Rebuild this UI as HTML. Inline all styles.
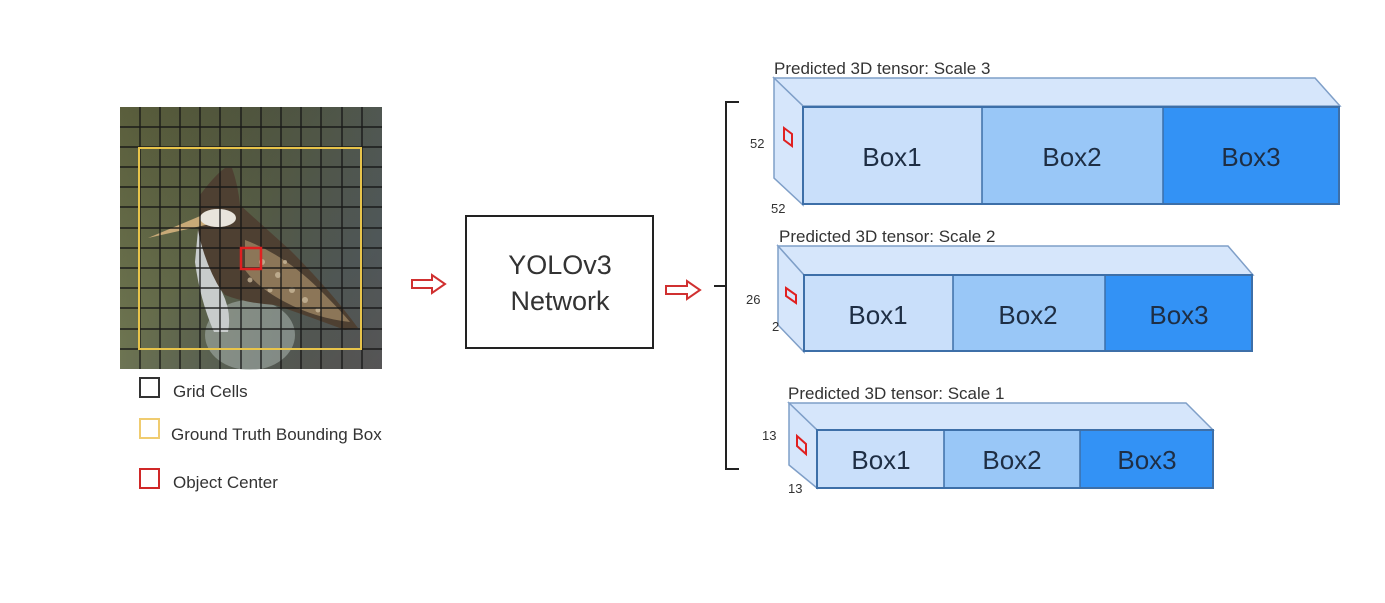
<!DOCTYPE html>
<html><head><meta charset="utf-8"><style>
html,body{margin:0;padding:0;background:#fff;}
svg{display:block;font-family:"Liberation Sans",sans-serif;}
</style></head><body>
<svg width="1385" height="603" viewBox="0 0 1385 603" xmlns="http://www.w3.org/2000/svg">
<defs>
<linearGradient id="bg" x1="0" y1="0" x2="1" y2="1">
<stop offset="0" stop-color="#5a5e3c"/><stop offset="0.45" stop-color="#6d7450"/><stop offset="0.75" stop-color="#6c7466"/><stop offset="1" stop-color="#7c6e5e"/>
</linearGradient>
<linearGradient id="bgr" x1="0" y1="0" x2="1" y2="0">
<stop offset="0" stop-color="#000" stop-opacity="0"/><stop offset="1" stop-color="#3c4450" stop-opacity="0.6"/>
</linearGradient>
</defs>
<rect x="120" y="107" width="262" height="262" fill="url(#bg)"/>
<rect x="120" y="107" width="262" height="262" fill="url(#bgr)"/>
<!-- bird -->
<ellipse cx="250" cy="335" rx="45" ry="35" fill="#a3aea8" opacity="0.6"/>
<path d="M200,195 Q215,175 225,168 L232,168 Q238,185 240,205 Q262,225 290,250 Q330,290 358,328 L345,330 Q305,315 275,305 Q245,303 225,295 Q205,270 198,240 Z" fill="#4e4032"/>
<path d="M245,240 Q285,255 320,290 Q340,310 350,322 Q315,318 285,302 Q258,288 245,270 Z" fill="#8c7658"/>
<g fill="#c9b79a" opacity="0.8">
<circle cx="262" cy="262" r="3"/><circle cx="278" cy="275" r="3"/><circle cx="292" cy="290" r="3"/><circle cx="270" cy="290" r="2.5"/><circle cx="305" cy="300" r="3"/><circle cx="250" cy="280" r="2.5"/><circle cx="285" cy="262" r="2"/><circle cx="318" cy="310" r="2.5"/>
</g>
<path d="M198,230 Q205,265 222,292 Q232,312 228,332 L214,332 Q200,300 195,262 Z" fill="#c8cccc"/>
<path d="M148,238 L205,214 L210,224 Z" fill="#c8aa78"/>
<ellipse cx="218" cy="218" rx="18" ry="9" fill="#e8e4dc"/>
<g stroke="#151515" stroke-width="1.4" opacity="0.9">
<line x1="140" y1="107" x2="140" y2="369"/><line x1="160" y1="107" x2="160" y2="369"/><line x1="180" y1="107" x2="180" y2="369"/><line x1="200" y1="107" x2="200" y2="369"/><line x1="220" y1="107" x2="220" y2="369"/><line x1="241" y1="107" x2="241" y2="369"/><line x1="261" y1="107" x2="261" y2="369"/><line x1="281" y1="107" x2="281" y2="369"/><line x1="301" y1="107" x2="301" y2="369"/><line x1="321" y1="107" x2="321" y2="369"/><line x1="342" y1="107" x2="342" y2="369"/><line x1="362" y1="107" x2="362" y2="369"/>
<line x1="120" y1="127" x2="382" y2="127"/><line x1="120" y1="147" x2="382" y2="147"/><line x1="120" y1="167" x2="382" y2="167"/><line x1="120" y1="187" x2="382" y2="187"/><line x1="120" y1="207" x2="382" y2="207"/><line x1="120" y1="228" x2="382" y2="228"/><line x1="120" y1="248" x2="382" y2="248"/><line x1="120" y1="268" x2="382" y2="268"/><line x1="120" y1="288" x2="382" y2="288"/><line x1="120" y1="308" x2="382" y2="308"/><line x1="120" y1="329" x2="382" y2="329"/><line x1="120" y1="349" x2="382" y2="349"/>
</g>
<rect x="139" y="148" width="222" height="201" fill="none" stroke="#e8c44a" stroke-width="2"/>
<rect x="241" y="248" width="20" height="21" fill="none" stroke="#e02020" stroke-width="2.5"/>
<!-- legend -->
<rect x="140" y="378" width="19" height="19" fill="none" stroke="#333" stroke-width="2"/>
<text x="173" y="397" font-size="17" fill="#333">Grid Cells</text>
<rect x="140" y="419" width="19" height="19" fill="none" stroke="#f0cc70" stroke-width="2"/>
<text x="171" y="440" font-size="17" fill="#333">Ground Truth Bounding Box</text>
<rect x="140" y="469" width="19" height="19" fill="none" stroke="#d02828" stroke-width="2"/>
<text x="173" y="488" font-size="17" fill="#333">Object Center</text>
<!-- arrows -->
<path d="M412,280 L432,280 L432,275 L445,284 L432,293 L432,288 L412,288 Z" fill="#fff" stroke="#d03030" stroke-width="2"/>
<path d="M666,286 L687,286 L687,281 L700,290 L687,299 L687,294 L666,294 Z" fill="#fff" stroke="#d03030" stroke-width="2"/>
<!-- network box -->
<rect x="466" y="216" width="187" height="132" fill="#fff" stroke="#222" stroke-width="2"/>
<text x="560" y="274" font-size="27" fill="#333" text-anchor="middle">YOLOv3</text>
<text x="560" y="310" font-size="27" fill="#333" text-anchor="middle">Network</text>
<!-- bracket -->
<path d="M739,102 L726,102 L726,469 L739,469 M714,286 L726,286" fill="none" stroke="#222" stroke-width="2"/>
<!-- tensor 3 -->
<text x="774" y="74" font-size="17" fill="#333">Predicted 3D tensor: Scale 3</text>
<polygon points="774,78 1315,78 1340,106 803,106" fill="#d6e6fb" stroke="#7f9fc8" stroke-width="1.5"/>
<polygon points="774,78 803,106 803,205 774,178" fill="#d6e6fb" stroke="#7f9fc8" stroke-width="1.5"/>
<rect x="803" y="107" width="179" height="97" fill="#c9dffa"/>
<rect x="982" y="107" width="181" height="97" fill="#99c7f7"/>
<rect x="1163" y="107" width="176" height="97" fill="#3392f5"/>
<rect x="803" y="107" width="536" height="97" fill="none" stroke="#3d6fa8" stroke-width="2"/>
<line x1="982" y1="107" x2="982" y2="204" stroke="#3d6fa8" stroke-width="1.5"/>
<line x1="1163" y1="107" x2="1163" y2="204" stroke="#3d6fa8" stroke-width="1.5"/>
<polygon points="784,128 792,134 792,146 784,140" fill="none" stroke="#e02020" stroke-width="2"/>
<text x="892" y="166" font-size="26" fill="#1e2e44" text-anchor="middle">Box1</text>
<text x="1072" y="166" font-size="26" fill="#1e2e44" text-anchor="middle">Box2</text>
<text x="1251" y="166" font-size="26" fill="#1e2e44" text-anchor="middle">Box3</text>
<text x="750" y="148" font-size="13" fill="#333">52</text>
<text x="771" y="213" font-size="13" fill="#333">52</text>
<!-- tensor 2 -->
<text x="779" y="242" font-size="17" fill="#333">Predicted 3D tensor: Scale 2</text>
<polygon points="778,246 1228,246 1253,275 804,275" fill="#d6e6fb" stroke="#7f9fc8" stroke-width="1.5"/>
<polygon points="778,246 804,275 804,352 778,325" fill="#d6e6fb" stroke="#7f9fc8" stroke-width="1.5"/>
<rect x="804" y="275" width="149" height="76" fill="#c9dffa"/>
<rect x="953" y="275" width="152" height="76" fill="#99c7f7"/>
<rect x="1105" y="275" width="147" height="76" fill="#3392f5"/>
<rect x="804" y="275" width="448" height="76" fill="none" stroke="#3d6fa8" stroke-width="2"/>
<line x1="953" y1="275" x2="953" y2="351" stroke="#3d6fa8" stroke-width="1.5"/>
<line x1="1105" y1="275" x2="1105" y2="351" stroke="#3d6fa8" stroke-width="1.5"/>
<polygon points="786,288 796,295 796,303 786,296" fill="none" stroke="#e02020" stroke-width="2"/>
<text x="878" y="324" font-size="26" fill="#1e2e44" text-anchor="middle">Box1</text>
<text x="1028" y="324" font-size="26" fill="#1e2e44" text-anchor="middle">Box2</text>
<text x="1179" y="324" font-size="26" fill="#1e2e44" text-anchor="middle">Box3</text>
<text x="746" y="304" font-size="13" fill="#333">26</text>
<text x="772" y="331" font-size="13" fill="#333">2</text>
<!-- tensor 1 -->
<text x="788" y="399" font-size="17" fill="#333">Predicted 3D tensor: Scale 1</text>
<polygon points="789,403 1186,403 1213,430 817,430" fill="#d6e6fb" stroke="#7f9fc8" stroke-width="1.5"/>
<polygon points="789,403 817,430 817,488 789,465" fill="#d6e6fb" stroke="#7f9fc8" stroke-width="1.5"/>
<rect x="817" y="430" width="127" height="58" fill="#c9dffa"/>
<rect x="944" y="430" width="136" height="58" fill="#99c7f7"/>
<rect x="1080" y="430" width="133" height="58" fill="#3392f5"/>
<rect x="817" y="430" width="396" height="58" fill="none" stroke="#3d6fa8" stroke-width="2"/>
<line x1="944" y1="430" x2="944" y2="488" stroke="#3d6fa8" stroke-width="1.5"/>
<line x1="1080" y1="430" x2="1080" y2="488" stroke="#3d6fa8" stroke-width="1.5"/>
<polygon points="797,436 806,444 806,454 797,446" fill="none" stroke="#e02020" stroke-width="2"/>
<text x="881" y="469" font-size="26" fill="#1e2e44" text-anchor="middle">Box1</text>
<text x="1012" y="469" font-size="26" fill="#1e2e44" text-anchor="middle">Box2</text>
<text x="1147" y="469" font-size="26" fill="#1e2e44" text-anchor="middle">Box3</text>
<text x="762" y="440" font-size="13" fill="#333">13</text>
<text x="788" y="493" font-size="13" fill="#333">13</text>
</svg>
</body></html>
